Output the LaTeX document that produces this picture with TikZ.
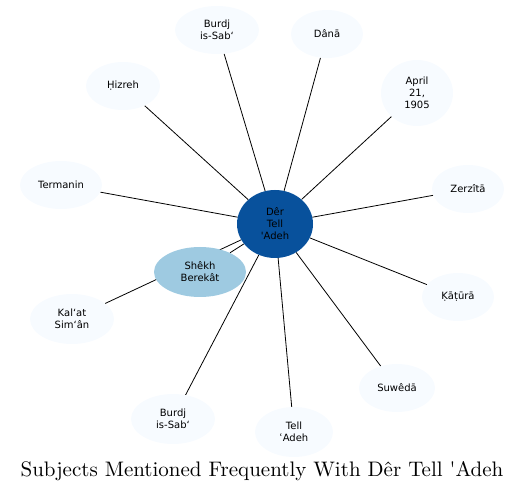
\documentclass[tikz,border=0pt]{standalone}
\usepackage{fontspec}
\newfontfamily\dejavu{DejaVu Sans}
\newfontfamily\titlefont{lmroman10-regular.otf}
\usetikzlibrary{shapes.geometric,backgrounds}
\definecolor{darkblue}{HTML}{08519C}
\definecolor{midblue}{HTML}{9ECAE1}
\definecolor{paleblue}{HTML}{F7FBFF}
\begin{document}
\begin{tikzpicture}
[x=1pt, y=-1pt, font=\dejavu\fontsize{10}{12}\selectfont]
\tikzstyle{topic}=[ellipse, fill=paleblue, inner sep=0mm, align=center, minimum width=74pt, minimum height=48pt]
\tikzstyle{link}=[line width=0.8pt]
\useasboundingbox (0,0) rectangle (525,494);
\node[topic, fill=darkblue, minimum width=76pt, minimum height=68pt]	(D)	at (275,224)	{Dêr\\Tell\\\textquotesingle Adeh};
\node[topic, minimum width=84pt]	(B1)	at (217,30)	{Burdj\\is-Sabʻ};
\node[topic, minimum width=72pt]	(Da)	at (327,34)	{Dânā};
\node[topic]	(H)	at (123,86)	{Ḥizreh};
\node[topic, minimum width=72pt, minimum height=66pt]	(Ap)	at (417,93)	{April\\21,\\1905};
\node[topic, minimum width=82pt]	(Te)	at (61,185)	{Termanin};
\node[topic, minimum width=72pt]	(Z)	at (468,189)	{Zerzîtā};
\node[topic, fill=midblue, minimum width=92pt, minimum height=50pt]	(S)	at (200,272)	{Shêkh\\Berekât};
\node[topic, minimum width=84pt, minimum height=50pt]	(K)	at (72,319)	{Kalʻat\\Simʻân};
\node[topic, minimum width=72pt]	(Ka)	at (458,297)	{Ḳāṭūrā};
\node[topic, minimum width=76pt]	(Su)	at (397,388)	{Suwêdā};
\node[topic, minimum width=84pt, minimum height=50pt]	(B2)	at (173,419)	{Burdj\\is-Sabʻ};
\node[topic, minimum width=78pt, minimum height=50pt]	(TA)	at (294,432)	{Tell\\ʿAdeh};

\begin{pgfonlayer}{background}
\foreach \n in {B1,Da,H,Ap,Te,Z,S,K,Ka,Su,B2,TA}
  \draw[link]	(D)--(\n);
\end{pgfonlayer}

\node[font=\titlefont\fontsize{21}{25}\selectfont]	(title)	at (262,471)	{Subjects Mentioned Frequently With Dêr Tell \textquotesingle Adeh};
\end{tikzpicture}
\end{document}
